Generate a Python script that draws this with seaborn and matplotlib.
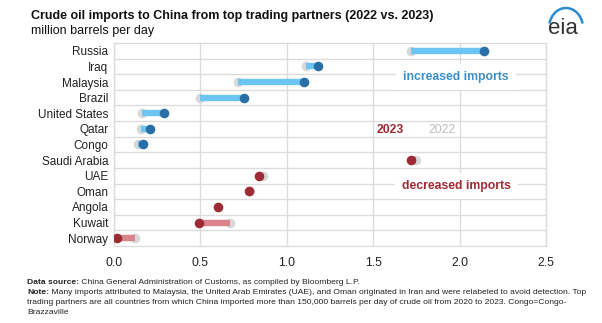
import matplotlib
matplotlib.use("Agg")
import matplotlib.pyplot as plt
import seaborn as sns
import pandas as pd
from matplotlib.patches import Arc

countries = ["Russia", "Iraq", "Malaysia", "Brazil", "United States", "Qatar", "Congo",
             "Saudi Arabia", "UAE", "Oman", "Angola", "Kuwait", "Norway"]
v2022 = [1.72, 1.11, 0.715, 0.50, 0.16, 0.155, 0.14, 1.75, 0.86, 0.785, 0.60, 0.67, 0.12]
v2023 = [2.14, 1.18, 1.10, 0.75, 0.29, 0.21, 0.17, 1.72, 0.84, 0.78, 0.60, 0.49, 0.02]
xticks = [0.0, 0.5, 1.0, 1.5, 2.0, 2.5]

df = pd.DataFrame({"country": countries, "y2022": v2022, "y2023": v2023})
df["dir"] = ["up" if b > a else "down" for a, b in zip(v2022, v2023)]

BLUE_BAR = "#6cc5f2"
BLUE_DOT = "#2a6ea6"
RED_BAR = "#d9848c"
RED_DOT = "#9e2b34"
GRAY_DOT = "#d8d8d8"
GRID = "#dcdcdc"

sns.set_theme(style="white")
plt.rcParams["font.family"] = ["Liberation Sans", "DejaVu Sans"]

fig = plt.figure(figsize=(6.02, 3.23), dpi=100)
ax = fig.add_axes([114 / 602, 77 / 323, 432 / 602, 203 / 323])

# 2022 dots
sns.scatterplot(data=df, x="y2022", y="country", color=GRAY_DOT, s=48, linewidth=0, ax=ax, zorder=3)
# bars
up = df[df["dir"] == "up"]
down = df[df["dir"] == "down"]
ax.hlines(up["country"], up["y2022"], up["y2023"], color=BLUE_BAR, lw=4.6, zorder=4)
ax.hlines(down["country"], down["y2023"], down["y2022"], color=RED_BAR, lw=4.6, zorder=4)
# 2023 dots
sns.scatterplot(data=up, x="y2023", y="country", color=BLUE_DOT, s=48, linewidth=0, ax=ax, zorder=5)
sns.scatterplot(data=down, x="y2023", y="country", color=RED_DOT, s=48, linewidth=0, ax=ax, zorder=5)

n = len(countries)
ax.set_ylim(n - 0.5, -0.5)
ax.set_xlim(0, 2.5)
ax.set_xticks(xticks)
ax.set_xticklabels([f"{t:.1f}" for t in xticks], fontsize=8.8, color="#222222")
ax.set_yticks(range(n))
ax.set_yticklabels(countries, fontsize=8.5, color="#222222")
ax.set_yticks([i + 0.5 for i in range(n - 1)], minor=True)
ax.set_xlabel("")
ax.set_ylabel("")
ax.tick_params(axis="y", which="both", length=0, pad=4)
ax.tick_params(axis="x", which="both", length=0, pad=8)
ax.grid(True, axis="x", which="major", color=GRID, lw=1, zorder=0)
ax.grid(True, axis="y", which="minor", color=GRID, lw=1, zorder=0)
ax.grid(False, axis="y", which="major")
ax.set_axisbelow(True)
for s in ax.spines.values():
    s.set_color(GRID)
    s.set_linewidth(1)

ax.text(1.98, 1.66, "increased imports", color="#3b8fc9", fontsize=8.8, fontweight="bold",
        ha="center", va="center", zorder=6,
        bbox=dict(facecolor="white", edgecolor="none", pad=5))
ax.text(1.98, 8.67, "decreased imports", color="#9e2b34", fontsize=8.8, fontweight="bold",
        ha="center", va="center", zorder=6,
        bbox=dict(facecolor="white", edgecolor="none", pad=5))
ax.text(1.60, 5.04, "2023", color=RED_DOT, fontsize=8.8, fontweight="bold",
        ha="center", va="center", zorder=6)
ax.text(1.90, 5.04, "2022", color="#bdbdbd", fontsize=8.8,
        ha="center", va="center", zorder=6)

fig.text(31 / 602, 1 - 16 / 323, "Crude oil imports to China from top trading partners (2022 vs. 2023)",
         fontsize=9, fontweight="bold", color="#111111", va="center", ha="left")
fig.text(31 / 602, 1 - 31 / 323, "million barrels per day", fontsize=9, color="#111111",
         va="center", ha="left")

# eia logo
fig.text(563 / 602, 1 - 29 / 323, "eia", fontsize=16, color="#333333", ha="center", va="center")
lax = fig.add_axes([546 / 602, 1 - 36 / 323, 38 / 602, 30 / 323])
lax.set_xlim(0, 38)
lax.set_ylim(0, 30)
lax.axis("off")
lax.add_patch(Arc((20, 8), 34, 40, theta1=15, theta2=165, color="#2a8bd0", lw=1.8))

fs = 6.1
t1 = fig.text(27 / 602, 1 - 282 / 323, "Data source:", fontsize=fs, fontweight="bold",
              color="#222222", va="center", ha="left")
ax.annotate(" China General Administration of Customs, as compiled by Bloomberg L.P.",
            xy=(1, 0), xycoords=t1, va="bottom", ha="left", fontsize=fs, color="#222222",
            annotation_clip=False)
t2 = fig.text(27 / 602, 1 - 292 / 323, "Note:", fontsize=fs, fontweight="bold",
              color="#222222", va="center", ha="left")
ax.annotate(" Many imports attributed to Malaysia, the United Arab Emirates (UAE), and Oman originated in Iran and were relabeled to avoid detection. Top",
            xy=(1, 0), xycoords=t2, va="bottom", ha="left", fontsize=fs, color="#222222",
            annotation_clip=False)
fig.text(27 / 602, 1 - 302 / 323,
         "trading partners are all countries from which China imported more than 150,000 barrels per day of crude oil from 2020 to 2023. Congo=Congo-",
         fontsize=fs, color="#222222", va="center", ha="left")
fig.text(27 / 602, 1 - 312 / 323, "Brazzaville", fontsize=fs, color="#222222", va="center", ha="left")

fig.savefig("out.png", dpi=100, facecolor="white")
